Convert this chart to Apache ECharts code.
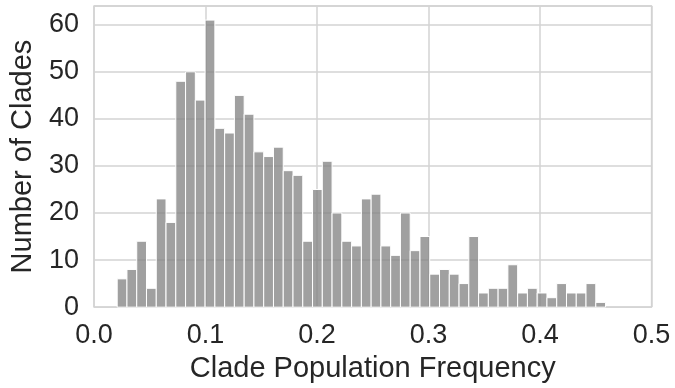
<!DOCTYPE html>
<html>
<head>
<meta charset="utf-8">
<script src="https://cdn.jsdelivr.net/npm/echarts@6/dist/echarts.min.js"></script>
<style>
html,body{margin:0;padding:0;background:#fff;}
#chart{width:675px;height:388px;}
</style>
</head>
<body>
<div id="chart"></div>
<script>
// Histogram bins: first bin start and bin width (frequency units)
const binStart = 0.0208;
const binWidth = 0.00876;
// Number of clades in each of the 50 bins
const counts = [6, 8, 14, 4, 23, 18, 48, 50, 44, 61,
                38, 37, 45, 41, 33, 32, 34, 29, 28, 14,
                25, 31, 20, 14, 13, 23, 24, 13, 11, 20,
                12, 15, 7, 8, 7, 5, 15, 3, 4, 4,
                9, 3, 4, 3, 2, 5, 3, 3, 5, 1];
const xTicks = [0.0, 0.1, 0.2, 0.3, 0.4, 0.5];
const yTicks = [0, 10, 20, 30, 40, 50, 60];

const data = counts.map((c, i) => [binStart + i * binWidth, binStart + (i + 1) * binWidth, c]);

const textColor = '#262626';
const font = '"Liberation Sans", Arial, sans-serif';

const chart = echarts.init(document.getElementById('chart'), null, {renderer: 'canvas'});
chart.setOption({
  animation: false,
  backgroundColor: '#fff',
  grid: {left: 93.5, right: 23.5, top: 6, bottom: 78.5, show: true, borderColor: '#cfcfcf', borderWidth: 1.3, backgroundColor: 'transparent'},
  xAxis: {
    type: 'value', min: 0, max: 0.5, interval: 0.1,
    name: 'Clade Population Frequency', nameLocation: 'middle', nameGap: 45,
    nameTextStyle: {fontSize: 29, color: textColor, fontFamily: font},
    axisLine: {show: false}, axisTick: {show: false},
    axisLabel: {fontSize: 27, color: textColor, fontFamily: font, margin: 15,
      formatter: v => xTicks.some(t => Math.abs(t - v) < 1e-9) ? v.toFixed(1) : ''},
    splitLine: {show: true, lineStyle: {color: '#d3d3d3', width: 1.5}}
  },
  yAxis: {
    type: 'value', min: 0, max: 64, interval: 10,
    name: 'Number of Clades', nameLocation: 'middle', nameGap: 57,
    nameTextStyle: {fontSize: 29, color: textColor, fontFamily: font},
    axisLine: {show: false}, axisTick: {show: false},
    axisLabel: {fontSize: 27, color: textColor, fontFamily: font, margin: 15,
      formatter: v => yTicks.includes(v) ? String(v) : ''},
    splitLine: {show: true, lineStyle: {color: '#d3d3d3', width: 1.5}}
  },
  series: [{
    type: 'custom',
    data: data,
    encode: {x: [0, 1], y: 2},
    renderItem: function (params, api) {
      const p0 = api.coord([api.value(0), api.value(2)]);
      const p1 = api.coord([api.value(1), 0]);
      return {
        type: 'rect',
        shape: {x: p0[0], y: p0[1], width: p1[0] - p0[0], height: p1[1] - p0[1]},
        style: {fill: 'rgba(128,128,128,0.75)', stroke: '#ffffff', lineWidth: 1}
      };
    }
  }]
});
</script>
</body>
</html>
